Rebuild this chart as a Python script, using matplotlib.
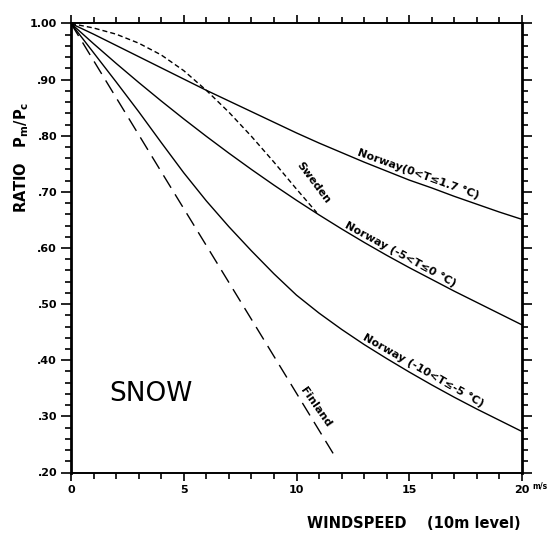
import matplotlib
matplotlib.use("Agg")
import matplotlib.pyplot as plt
from matplotlib.ticker import MultipleLocator, FixedLocator
import numpy as np

# windspeed (m/s) and catch ratio Pm/Pc
wind = [0, 1, 2, 3, 4, 5, 6, 7, 8, 9, 10, 11, 12, 13, 14, 15, 16, 17, 18, 19, 20]
norway_warm = [1.0, 0.981, 0.961, 0.941, 0.921, 0.901, 0.881, 0.862, 0.843, 0.824, 0.805,
               0.787, 0.770, 0.753, 0.737, 0.721, 0.707, 0.692, 0.678, 0.664, 0.651]
norway_mid = [1.0, 0.964, 0.929, 0.895, 0.862, 0.830, 0.799, 0.769, 0.740, 0.712, 0.685,
              0.659, 0.634, 0.610, 0.587, 0.565, 0.544, 0.523, 0.503, 0.483, 0.463]
norway_cold = [1.0, 0.948, 0.896, 0.843, 0.788, 0.734, 0.684, 0.638, 0.595, 0.554, 0.516,
               0.484, 0.455, 0.428, 0.403, 0.379, 0.356, 0.334, 0.313, 0.293, 0.273]

sweden_wind = [0, 1, 2, 3, 4, 5, 6, 7, 8, 9, 10, 10.9]
sweden = [1.0, 0.992, 0.981, 0.965, 0.944, 0.916, 0.881, 0.842, 0.799, 0.753, 0.705, 0.663]

finland_wind = [0, 4, 8, 11.7]
finland = [1.0, 0.736, 0.473, 0.229]

ytick_vals = [1.0, 0.9, 0.8, 0.7, 0.6, 0.5, 0.4, 0.3, 0.2]
ytick_labels = ["1.00", ".90", ".80", ".70", ".60", ".50", ".40", ".30", ".20"]
xtick_vals = [0, 5, 10, 15, 20]

W, H = 547, 534
fig = plt.figure(figsize=(W / 100, H / 100), dpi=100)
ax = fig.add_axes([71 / W, 1 - 472.5 / H, 451 / W, 449 / H])

lw = 1.0
ax.plot(wind, norway_warm, color="k", lw=lw)
ax.plot(wind, norway_mid, color="k", lw=lw)
ax.plot(wind, norway_cold, color="k", lw=lw)
ax.plot(sweden_wind, sweden, color="k", lw=lw, dashes=(3.6, 2.2))
ax.plot(finland_wind, finland, color="k", lw=lw, dashes=(10.5, 5.5))

ax.set_xlim(0, 20)
ax.set_ylim(0.2, 1.0)

# ticks everywhere, pointing outward
ax.xaxis.set_major_locator(FixedLocator(xtick_vals))
ax.xaxis.set_minor_locator(MultipleLocator(1))
ax.yaxis.set_major_locator(FixedLocator(ytick_vals))
ax.yaxis.set_minor_locator(MultipleLocator(0.02))
ax.set_yticklabels(ytick_labels)
ax.tick_params(which="both", direction="out", top=True, right=True,
               labeltop=False, labelright=False, width=1.2, color="k")
ax.tick_params(which="major", length=7, labelsize=8, pad=3)
ax.tick_params(which="minor", length=4.5)
ax.tick_params(axis="x", which="major", length=6)
ax.tick_params(axis="x", which="minor", length=4)
for lab in ax.get_xticklabels() + ax.get_yticklabels():
    lab.set_fontweight("bold")

for side, sp in ax.spines.items():
    sp.set_linewidth(1.4)
ax.spines["left"].set_linewidth(2.0)
ax.spines["right"].set_linewidth(2.0)


def slope_angle(xs, ys, x0):
    # rotation in screen degrees of a curve at x0
    p1 = ax.transData.transform((x0 - 0.7, np.interp(x0 - 0.7, xs, ys)))
    p2 = ax.transData.transform((x0 + 0.7, np.interp(x0 + 0.7, xs, ys)))
    return np.degrees(np.arctan2(p2[1] - p1[1], p2[0] - p1[0]))


lab_kw = dict(ha="center", va="center", rotation_mode="anchor",
              fontsize=8, fontweight="bold")
ax.text(15.4, 0.731, "Norway(0<T≤1.7 °C)",
        rotation=slope_angle(wind, norway_warm, 15.4), **lab_kw)
ax.text(14.6, 0.588, "Norway (-5<T≤0 °C)",
        rotation=slope_angle(wind, norway_mid, 14.6), **lab_kw)
ax.text(15.6, 0.382, "Norway (-10<T≤-5 °C)",
        rotation=slope_angle(wind, norway_cold, 15.6), **lab_kw)
ax.text(10.75, 0.716, "Sweden", rotation=-53, **lab_kw)
ax.text(10.85, 0.316, "Finland", rotation=-55, **lab_kw)

ax.text(3.55, 0.339, "SNOW", ha="center", va="center", fontsize=19)

fig.text(22 / W, 1 - 157 / H,
         r"RATIO   P$_\mathregular{m}$/P$_\mathregular{c}$",
         rotation=90, ha="center", va="center", fontsize=10.5, fontweight="bold")
fig.text(414 / W, 1 - 523 / H, "WINDSPEED    (10m level)",
         ha="center", va="center", fontsize=10.5, fontweight="bold")
fig.text(532 / W, 1 - 486 / H, "m/s", ha="left", va="center",
         fontsize=5.5, fontweight="bold")

fig.savefig("out.png", dpi=100)
